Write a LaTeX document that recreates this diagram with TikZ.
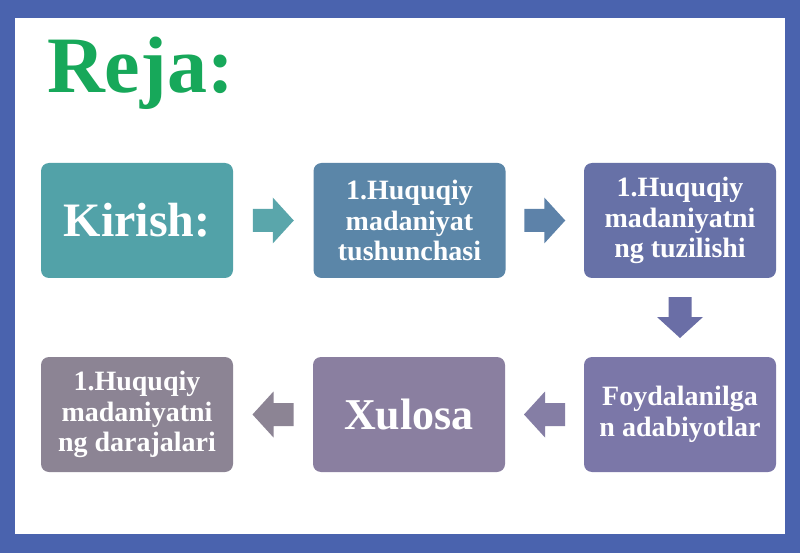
\documentclass[tikz,border=0pt]{standalone}
\usepackage{fontspec}
\setmainfont{Liberation Serif}
\usetikzlibrary{calc}
\definecolor{frameblue}{HTML}{4A63AE}
\definecolor{titlegreen}{HTML}{17A85A}
\definecolor{cA}{HTML}{52A2A8}
\definecolor{cB}{HTML}{5B86A8}
\definecolor{cC}{HTML}{6771A7}
\definecolor{cD}{HTML}{7B77A8}
\definecolor{cE}{HTML}{8A7FA0}
\definecolor{cF}{HTML}{8C8494}
\definecolor{aA}{HTML}{5AA6AB}
\definecolor{aB}{HTML}{5D82A9}
\definecolor{aC}{HTML}{6A6EA6}
\definecolor{aD}{HTML}{857EA5}
\definecolor{aE}{HTML}{8C8494}
\tikzset{
  box/.style={rounded corners=8pt, minimum width=192pt, minimum height=115pt,
    inner sep=0pt, text=white, align=center,
    font=\fontsize{28}{30.5}\selectfont\bfseries},
  bigtext/.style={font=\fontsize{48}{52}\selectfont\bfseries},
  midtext/.style={font=\fontsize{44}{48}\selectfont\bfseries},
}
\newcommand{\blockarrow}{(-20.5,-11.5) -- (-0.5,-11.5) -- (-0.5,-23) -- (20.5,0) -- (-0.5,23) -- (-0.5,11.5) -- (-20.5,11.5) -- cycle}
\begin{document}
\begin{tikzpicture}[x=1pt,y=-1pt]
\useasboundingbox (0,0) rectangle (800,553);
\fill[frameblue] (0,0) rectangle (800,553);
\fill[white] (15,18) rectangle (785,534);
\node[anchor=base west, inner sep=0pt, text=titlegreen,
  font=\fontsize{80}{84}\selectfont\bfseries] (title) at (47,93) {Reja:};
\node[box, fill=cA, bigtext] (kirish) at (137,220.5) {Kirish:};
\node[box, fill=cB] (tush) at (409.5,220.5) {1.Huquqiy\\madaniyat\\tushunchasi};
\node[box, fill=cC] (tuz) at (680,220.5) {1.Huquqiy\\madaniyatni\\ng tuzilishi};
\node[box, fill=cD] (foyd) at (680,414.5) {Foydalanilga\\n adabiyotlar};
\node[box, fill=cE, midtext] (xul) at (409,414.5) {Xulosa};
\node[box, fill=cF] (dar) at (137,414.5) {1.Huquqiy\\madaniyatni\\ng darajalari};
\fill[aA, shift={($(kirish.east)!.5!(tush.west)$)}] \blockarrow;
\fill[aB, shift={($(tush.east)!.5!(tuz.west)$)}] \blockarrow;
\fill[aC, shift={($(tuz.south)!.5!(foyd.north)$)}, rotate=-90] \blockarrow;
\fill[aD, shift={($(foyd.west)!.5!(xul.east)$)}, rotate=180] \blockarrow;
\fill[aE, shift={($(xul.west)!.5!(dar.east)$)}, rotate=180] \blockarrow;
\end{tikzpicture}
\end{document}
